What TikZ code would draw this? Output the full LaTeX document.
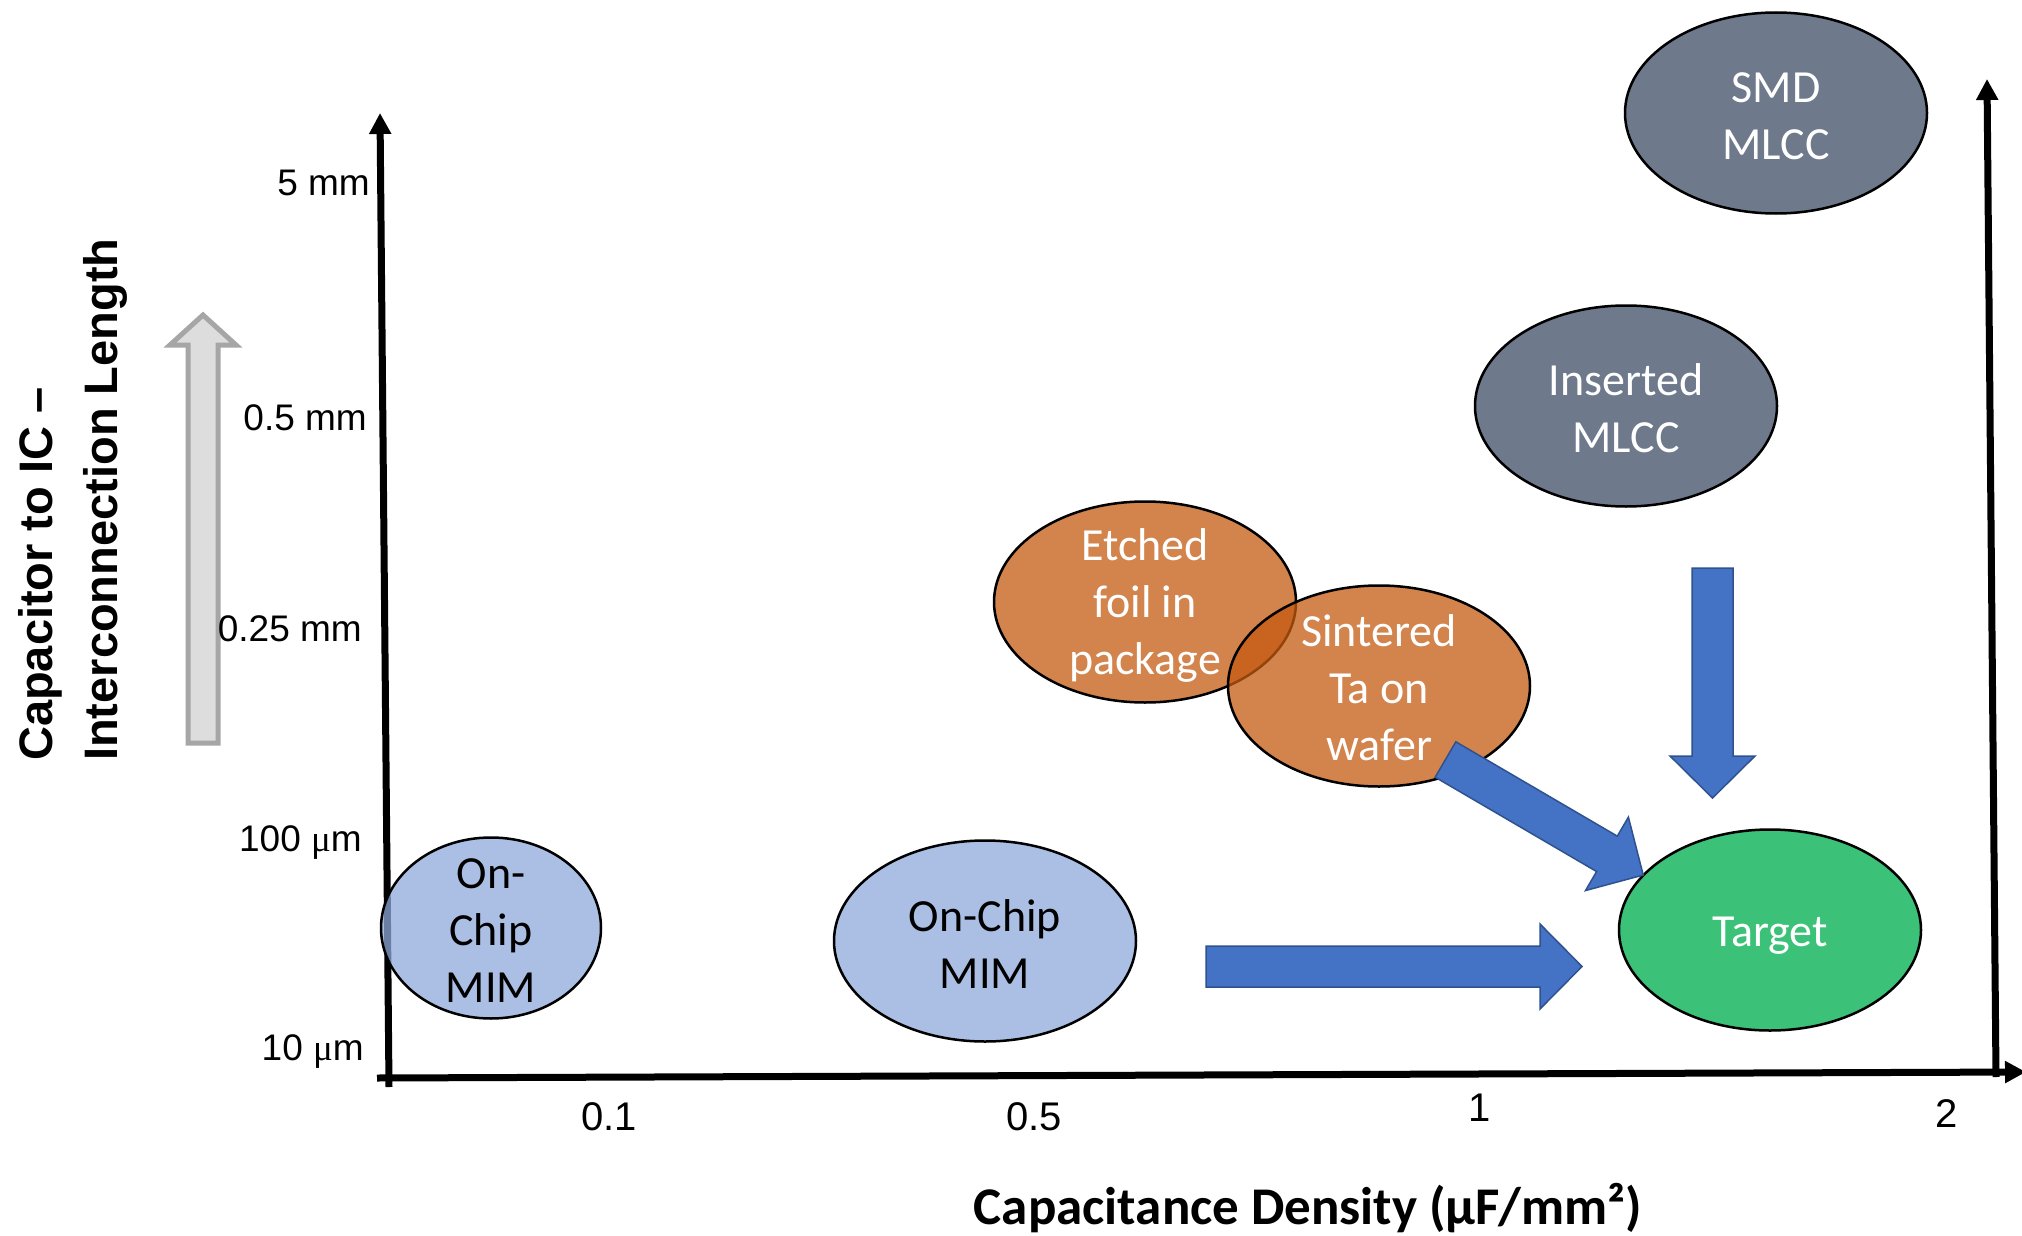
\documentclass[tikz,border=0pt]{standalone}
\usepackage{fontspec}
\setmainfont{Carlito}
\newfontfamily\arialf{Liberation Sans}
\newfontfamily\muserif{Liberation Serif}
\usetikzlibrary{shapes.geometric,arrows.meta}
\definecolor{mimblue}{HTML}{8FAADC}
\definecolor{orng}{HTML}{C55A11}
\definecolor{slate}{HTML}{6E7A8C}
\definecolor{tgreen}{HTML}{00B050}
\definecolor{barrow}{HTML}{4472C4}
\definecolor{bedge}{HTML}{2F528F}
\definecolor{gfill}{HTML}{DDDDDD}
\definecolor{gedge}{HTML}{A6A6A6}
\newcommand{\blockarr}[3]{%
  \begin{scope}[shift={(#1)}, rotate=#2]
    \draw[blk] (0,-20.5) -- ({#3-42},-20.5) -- ({#3-42},-42.5) -- (#3,0)
      -- ({#3-42},42.5) -- ({#3-42},20.5) -- (0,20.5) -- cycle;
  \end{scope}}
\begin{document}
\begin{tikzpicture}[x=1pt,y=-1pt,
  ell/.style={ellipse, draw=black, line width=2.5pt, inner sep=0pt,
    minimum width=302pt, minimum height=201pt},
  lbl/.style={align=center, font=\fontsize{46}{57}\selectfont, inner sep=0pt},
  axisline/.style={line width=7pt, -{Triangle[width=21pt,length=21pt]}},
  tick/.style={font=\arialf\fontsize{37}{44}\selectfont, inner sep=0pt},
  xtick/.style={font=\arialf\fontsize{40}{48}\selectfont, inner sep=0pt, anchor=base},
  ytitle/.style={font=\arialf\bfseries\fontsize{47}{56}\selectfont, inner sep=0pt,
    rotate=90, anchor=base west},
  blk/.style={fill=barrow, draw=bedge, line width=1.5pt, line join=miter}]
\useasboundingbox (0,0) rectangle (2022,1236);
\fill[white] (0,0) rectangle (2022,1236);

% axes
\coordinate (o1) at (389,1087);
\coordinate (ytop) at (380,113);
\coordinate (o2) at (377,1078);
\coordinate (xend) at (2026,1072);
\coordinate (r1) at (1996,1077);
\coordinate (rtop) at (1987,79);
\draw[axisline] (o1) -- (ytop);
\draw[axisline] (o2) -- (xend);
\draw[axisline] (r1) -- (rtop);

% gray up arrow
\draw[fill=gfill, draw=gedge, line width=5pt, line join=miter]
  (188,743) -- (188,345) -- (170,345) -- (203,315) -- (236,345) -- (218,345) -- (218,743) -- cycle;

% y tick labels
\node[tick, anchor=base east] (t1) at (370,195) {5 mm};
\node[tick, anchor=base east] (t2) at (367,430) {0.5 mm};
\node[tick, anchor=base east] (t3) at (362,641) {0.25 mm};
\node[tick, anchor=base east] (t4) at (362,851) {100 {\muserif μ}m};
\node[tick, anchor=base east] (t5) at (364,1060) {10 {\muserif μ}m};

% x tick labels
\node[xtick] (x1) at (609,1130) {0.1};
\node[xtick] (x2) at (1034,1130) {0.5};
\node[xtick] (x3) at (1480,1121) {1};
\node[xtick] (x4) at (1947,1127) {2};

% axis titles
\node[ytitle] (yt1) at (52,761) {Capacitor to IC –};
\node[ytitle] (yt2) at (117,761) {Interconnection Length};
\node[anchor=base, inner sep=0pt, font=\bfseries\fontsize{53}{60}\selectfont] (xt) at (1308,1224)
  {Capacitance Density (µF/mm²)};

% ellipses
\node[ell, fill=mimblue, fill opacity=0.75, minimum width=220pt, minimum height=181pt] (mim1) at (491,928) {};
\node[ell, fill=mimblue, fill opacity=0.75] (mim2) at (985,941) {};
\node[ell, fill=orng, fill opacity=0.75] (etch) at (1145,602) {};
\node[ell, fill=orng, fill opacity=0.75] (sint) at (1379,686) {};
\node[ell, fill=slate] (smd) at (1776,113) {};
\node[ell, fill=slate] (ins) at (1626,406) {};
\node[ell, fill=tgreen, fill opacity=0.77] (targ) at (1770,930) {};

\node[lbl] (mim1t) at ([yshift=-3pt]mim1) {On-\\Chip\\MIM};
\node[lbl] (mim2t) at ([yshift=-3pt]mim2) {On-Chip\\MIM};
\node[lbl, text=white] (etcht) at ([yshift=-3pt]etch) {Etched\\foil in\\package};
\node[lbl, text=white] (sintt) at ([yshift=-2pt]sint) {Sintered\\Ta on\\wafer};
\node[lbl, text=white] (smdt) at ([yshift=-3pt]smd) {SMD\\MLCC};
\node[lbl, text=white] (inst) at ([yshift=-2pt]ins) {Inserted\\MLCC};
\node[lbl, text=white] (targt) at ([yshift=-6pt]targ) {Target};

% block arrows
\coordinate (a1) at (1206,966.5);
\coordinate (a2) at (1712.5,568);
\coordinate (a3) at (1445.5,759.5);
\blockarr{a1}{0}{376}
\blockarr{a2}{-90}{230}
\blockarr{a3}{-30.3}{229}
\end{tikzpicture}
\end{document}
